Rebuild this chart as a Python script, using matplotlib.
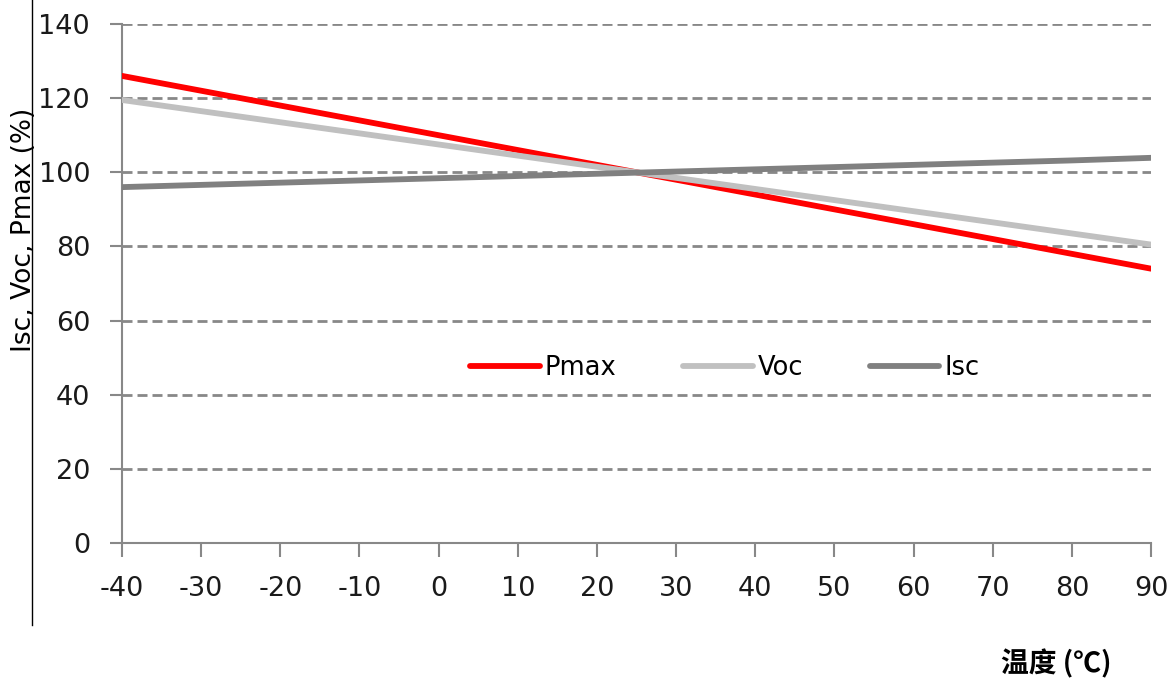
import matplotlib.pyplot as plt
from matplotlib.lines import Line2D

plt.rcParams['font.family'] = ['DejaVu Sans']

temps = [-40, -30, -20, -10, 0, 10, 20, 30, 40, 50, 60, 70, 80, 90]
pmax = [126, 122, 118, 114, 110, 106, 102, 98, 94, 90, 86, 82, 78, 74]
voc = [119.5, 116.5, 113.5, 110.5, 107.5, 104.5, 101.5, 98.5, 95.5, 92.5, 89.5, 86.5, 83.5, 80.5]
isc = [96.0, 96.6, 97.2, 97.8, 98.4, 99.0, 99.6, 100.2, 100.8, 101.4, 102.0, 102.6, 103.2, 103.9]

W, H = 1174, 684
fig = plt.figure(figsize=(W / 100, H / 100), dpi=100)
ax = fig.add_axes([122 / W, (H - 543) / H, 1029 / W, 519 / H])

ax.plot(temps, pmax, color='#ff0000', lw=4.2, label='Pmax', solid_capstyle='round', zorder=3)
ax.plot(temps, voc, color='#c0c0c0', lw=4.2, label='Voc', solid_capstyle='round', zorder=3)
ax.plot(temps, isc, color='#808080', lw=4.2, label='Isc', solid_capstyle='round', zorder=3)

ax.set_xlim(-40, 90)
ax.set_ylim(0, 140)
ax.set_xticks(temps)
ax.set_xticklabels([str(t) for t in temps])
ax.set_yticks(range(0, 141, 20))

# dashed gridlines
for y in range(20, 141, 20):
    ax.axhline(y, color='#888888', lw=2.0, ls=(0, (3.6, 1.8)), zorder=1)

for s in ['top', 'right']:
    ax.spines[s].set_visible(False)
for s in ['left', 'bottom']:
    ax.spines[s].set_color('#888888')
    ax.spines[s].set_linewidth(1.5)
ax.tick_params(axis='y', length=9, width=1.5, color='#888888', labelsize=19.5,
               labelcolor='#1a1a1a', pad=14)
ax.tick_params(axis='x', length=10, width=1.5, color='#888888', labelsize=19.5,
               labelcolor='#1a1a1a', pad=14)

ax.legend(loc='center', bbox_to_anchor=(0.586, 0.337), ncol=3, frameon=False,
          fontsize=18.5, handlelength=2.7, handletextpad=0.2, columnspacing=2.6)

fig.text(24 / W, 1 - 230 / H, 'Isc, Voc, Pmax (%)', rotation=90, fontsize=19,
         ha='center', va='center')
fig.add_artist(Line2D([32 / W, 32 / W], [1 - 625 / H, 1.0], color='black', lw=1.0,
                      transform=fig.transFigure))
fig.text(1056 / W, 1 - 664 / H, '温度 (℃)', fontsize=20, fontweight='bold',
         family=['Noto Sans CJK SC', 'DejaVu Sans'], ha='center', va='center')

fig.savefig('out.png', dpi=100)
